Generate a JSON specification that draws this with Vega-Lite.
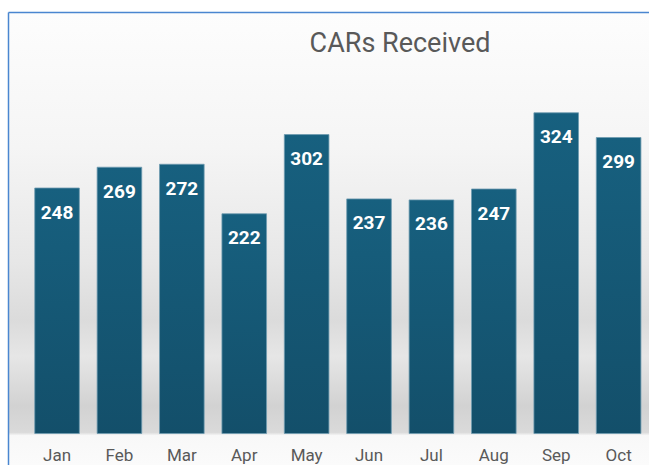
{
  "$schema": "https://vega.github.io/schema/vega-lite/v6.json",
  "width": 641,
  "height": 453,
  "autosize": {"type": "none"},
  "padding": {"left": 8, "top": 12, "right": 0, "bottom": 0},
  "background": "#ffffff",
  "title": {
    "text": "CARs Received",
    "anchor": "middle",
    "dx": 71.5,
    "offset": -67,
    "baseline": "alphabetic",
    "fontSize": 27,
    "fontWeight": "normal",
    "color": "#595959",
    "font": "Roboto"
  },
  "config": {
    "view": {
      "stroke": null,
      "fill": {
        "gradient": "linear",
        "x1": 0, "y1": 0, "x2": 0, "y2": 1,
        "stops": [
          {"offset": 0, "color": "#fdfdfd"},
          {"offset": 0.3, "color": "#f5f5f5"},
          {"offset": 0.55, "color": "#e7e7e7"},
          {"offset": 0.68, "color": "#dbdbdb"},
          {"offset": 0.76, "color": "#e6e6e6"},
          {"offset": 0.87, "color": "#d2d2d2"},
          {"offset": 0.928, "color": "#dadada"},
          {"offset": 0.935, "color": "#f8f8f8"},
          {"offset": 1, "color": "#fbfbfb"}
        ]
      }
    }
  },
  "data": {
    "values": [
      {"month": "Jan", "count": 248},
      {"month": "Feb", "count": 269},
      {"month": "Mar", "count": 272},
      {"month": "Apr", "count": 222},
      {"month": "May", "count": 302},
      {"month": "Jun", "count": 237},
      {"month": "Jul", "count": 236},
      {"month": "Aug", "count": 247},
      {"month": "Sep", "count": 324},
      {"month": "Oct", "count": 299}
    ]
  },
  "layer": [
    {
      "mark": {
        "type": "bar",
        "color": {
          "gradient": "linear",
          "x1": 0, "y1": 0, "x2": 0, "y2": 1,
          "stops": [
            {"offset": 0, "color": "#17607f"},
            {"offset": 1, "color": "#134f6a"}
          ]
        },
        "stroke": "#6f9bb0",
        "strokeWidth": 0.8
      },
      "encoding": {
        "x": {
          "field": "month",
          "type": "nominal",
          "sort": null,
          "scale": {"paddingInner": 0.285, "paddingOuter": 0.279, "align": 0.768},
          "axis": {
            "orient": "bottom",
            "domain": false,
            "ticks": false,
            "grid": false,
            "title": null,
            "labelAngle": 0,
            "labelPadding": 0,
            "offset": -5,
            "labelBaseline": "alphabetic",
            "labelFontSize": 17,
            "labelFont": "Roboto",
            "labelColor": "#595959"
          }
        },
        "y": {
          "field": "count",
          "type": "quantitative",
          "scale": {"domain": [-31.8, 425.8], "nice": false, "zero": false},
          "axis": {
            "orient": "left",
            "domain": true,
            "domainColor": "#4a86d0",
            "domainWidth": 1.5,
            "ticks": false,
            "labels": false,
            "grid": false,
            "title": null
          }
        },
        "y2": {"datum": 0}
      }
    },
    {
      "mark": {
        "type": "text",
        "baseline": "middle",
        "dy": 24.5,
        "color": "#ffffff",
        "fontWeight": "bold",
        "fontSize": 19,
        "font": "Roboto"
      },
      "encoding": {
        "x": {
          "field": "month",
          "type": "nominal",
          "sort": null,
          "axis": {
            "orient": "top",
            "domain": true,
            "domainColor": "#4a86d0",
            "domainWidth": 1.5,
            "ticks": false,
            "labels": false,
            "grid": false,
            "title": null
          }
        },
        "y": {
          "field": "count",
          "type": "quantitative",
          "axis": {
            "orient": "left",
            "domain": true,
            "domainColor": "#4a86d0",
            "domainWidth": 1.5,
            "ticks": false,
            "labels": false,
            "grid": false,
            "title": null
          }
        },
        "text": {"field": "count", "type": "quantitative"}
      }
    }
  ],
  "resolve": {"axis": {"x": "independent"}}
}
